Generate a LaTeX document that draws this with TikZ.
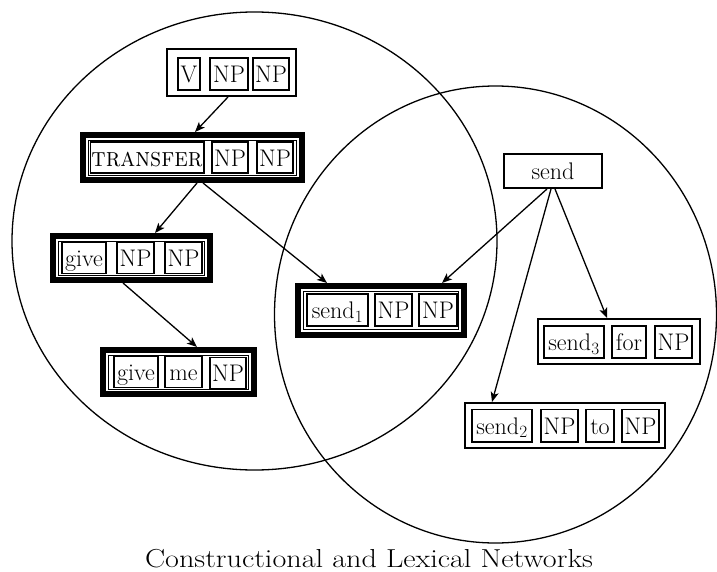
\documentclass[tikz,border=0pt]{standalone}
\usepackage{fontspec}
\usepackage{graphicx}
\usetikzlibrary{arrows.meta}
\begin{document}
\begin{tikzpicture}[x=1bp,y=-1bp,
 cell/.style={draw, fill=white, line width=1.6bp, inner sep=0pt, outer sep=0pt,
   minimum height=32.4bp, text height=18bp, text depth=0.6bp,
   font=\fontsize{24bp}{28bp}\selectfont},
 heavybox/.style={draw, fill=white, line width=6bp, inner sep=0pt, outer sep=3bp},
 thinbox/.style={draw, fill=none, line width=0.9bp, inner sep=0pt, outer sep=0pt},
 lightbox/.style={draw, fill=white, line width=2bp, inner sep=0pt, outer sep=1bp},
 wordbox/.style={lightbox, text height=18bp, text depth=0.6bp,
   font=\fontsize{24bp}{28bp}\selectfont},
 link/.style={line width=1.3bp, -{Stealth[length=10bp,width=8bp,inset=2.5bp]}},
 ring/.style={line width=1.3bp},
 caption/.style={font=\fontsize{26bp}{30bp}\selectfont, anchor=base, inner sep=0pt}
]
\useasboundingbox (0,0) rectangle (717,572);

% the two networks
\draw[ring] (254.5,241) ellipse [x radius=242.5bp, y radius=229bp];
\draw[ring] (495.5,314.5) ellipse [x radius=221bp, y radius=228.5bp];

% V NP NP
\node[lightbox, minimum width=129bp, minimum height=47bp] (vnp) at (231.5,72.5) {};
\node[cell, minimum width=22.4bp] (vnpa) at (189,74) {V};
\node[cell, minimum width=38.4bp] (vnpb) at (229,74) {NP};
\node[cell, minimum width=36.4bp] (vnpc) at (271,74) {NP};

% TRANSFER NP NP
\node[heavybox, minimum width=219bp, minimum height=45bp] (transfer) at (192.5,157.5) {};
\node[thinbox, minimum width=208bp, minimum height=35bp] (transferin) at (192.5,157.5) {};
\node[cell, minimum width=113.4bp, minimum height=31.4bp] (transfera) at (147,157.5)
  {\scalebox{0.9}[1]{\fontsize{27bp}{30bp}\selectfont\textsc{transfer}}};
\node[cell, minimum width=36.4bp, minimum height=31.4bp] (transferb) at (230,157.5) {NP};
\node[cell, minimum width=36.4bp, minimum height=31.4bp] (transferc) at (275,157.5) {NP};

% give NP NP
\node[heavybox, minimum width=157bp, minimum height=44bp] (givenp) at (131.5,258) {};
\node[thinbox, minimum width=146bp, minimum height=34bp] (givenpin) at (131.5,258) {};
\node[cell, minimum width=44.4bp, minimum height=31bp] (givenpa) at (84,258) {give};
\node[cell, minimum width=37.4bp, minimum height=31bp] (givenpb) at (135.5,258) {NP};
\node[cell, minimum width=37.4bp, minimum height=31bp] (givenpc) at (183.5,258) {NP};

% give me NP
\node[heavybox, minimum width=151bp, minimum height=44bp] (giveme) at (178.5,372) {};
\node[thinbox, minimum width=140bp, minimum height=34bp] (givemein) at (178.5,372) {};
\node[cell, minimum width=44.4bp, minimum height=31bp] (givemea) at (136,372) {give};
\node[cell, minimum width=37.4bp, minimum height=31bp] (givemeb) at (183.5,372) {me};
\node[cell, minimum width=36.4bp, minimum height=31bp] (givemec) at (228,373) {NP};

% send1 NP NP
\node[heavybox, minimum width=166bp, minimum height=49bp] (sendone) at (381,310.5) {};
\node[thinbox, minimum width=155bp, minimum height=38bp] (sendonein) at (381,310.5) {};
\node[cell, minimum width=61.4bp] (sendonea) at (337.5,310) {send$_1$};
\node[cell, minimum width=37.4bp] (sendoneb) at (393.5,310) {NP};
\node[cell, minimum width=38.4bp] (sendonec) at (438,310) {NP};

% send
\node[wordbox, minimum width=98bp, minimum height=34bp] (send) at (553,171) {send};

% send3 for NP
\node[lightbox, minimum width=162bp, minimum height=45bp] (sendthree) at (619,341.5) {};
\node[cell, minimum width=60.4bp] (sendthreea) at (574,342) {send$_3$};
\node[cell, minimum width=34.4bp] (sendthreeb) at (629,342) {for};
\node[cell, minimum width=37.4bp] (sendthreec) at (673.5,342) {NP};

% send2 NP to NP
\node[lightbox, minimum width=200bp, minimum height=45bp] (sendtwo) at (565,425.5) {};
\node[cell, minimum width=60.4bp] (sendtwoa) at (502,425.5) {send$_2$};
\node[cell, minimum width=37.4bp] (sendtwob) at (559.5,425.5) {NP};
\node[cell, minimum width=28.4bp] (sendtwoc) at (600,425.5) {to};
\node[cell, minimum width=37.4bp] (sendtwod) at (640.5,425.5) {NP};

% links
\draw[link] ([xshift=-3.5bp]vnp.south) -- ([xshift=2.5bp]transfer.north);
\draw[link] ([xshift=4.5bp]transfer.south) -- ([xshift=23.5bp]givenp.north);
\draw[link] ([xshift=10.5bp]transfer.south) -- ([xshift=32bp]sendone.north west);
\draw[link] ([xshift=-8.5bp]givenp.south) -- ([xshift=18.5bp]giveme.north);
\draw[link] ([xshift=-6bp]send.south) -- ([xshift=-25bp]sendone.north east);
\draw[link] ([xshift=-2bp]send.south) -- ([xshift=28bp]sendtwo.north west);
\draw[link] ([xshift=2bp]send.south) -- ([xshift=70bp]sendthree.north west);

% caption
\node[caption] (cap) at (369,567) {\scalebox{1.16}[1]{Constructional and Lexical Networks}};
\end{tikzpicture}
\end{document}
